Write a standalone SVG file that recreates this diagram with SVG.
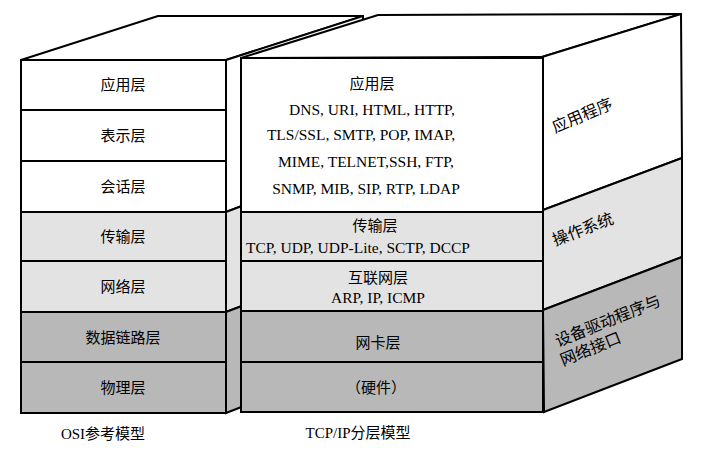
<svg xmlns="http://www.w3.org/2000/svg" width="721" height="463" viewBox="0 0 721 463">
<style>
.ln{stroke:#000;stroke-width:2;stroke-linejoin:miter}
.w{fill:#fff}
.l{fill:#e3e3e3}
.d{fill:#b8b8b8}
text{font-family:"Liberation Serif","Noto Sans CJK SC",serif;fill:#000}
.cn{font-size:15px;text-anchor:middle}
.en{font-size:15.5px;text-anchor:middle}
.side{font-size:16px;text-anchor:start}
</style>
<rect width="721" height="463" fill="#fff"/>
<g id="osi">
  <polygon class="w ln" points="21,60 158,16 363,16 226,60"/>
  <polygon class="w ln" points="226,60 363,16 363,160 226,212"/>
  <polygon class="l ln" points="226,212 363,160 363,260 226,312"/>
  <polygon class="d ln" points="226,312 363,260 363,360 226,413"/>
  <rect class="w ln" x="21" y="60" width="205" height="50"/>
  <rect class="w ln" x="21" y="110" width="205" height="51"/>
  <rect class="w ln" x="21" y="161" width="205" height="51"/>
  <rect class="l ln" x="21" y="212" width="205" height="49"/>
  <rect class="l ln" x="21" y="261" width="205" height="51"/>
  <rect class="d ln" x="21" y="312" width="205" height="50"/>
  <rect class="d ln" x="21" y="362" width="205" height="51"/>
  <text class="cn" x="123" y="90">应用层</text>
  <text class="cn" x="123" y="141">表示层</text>
  <text class="cn" x="123" y="192">会话层</text>
  <text class="cn" x="123" y="242">传输层</text>
  <text class="cn" x="123" y="292">网络层</text>
  <text class="cn" x="123" y="343">数据链路层</text>
  <text class="cn" x="123" y="393">物理层</text>
  <text class="cn" x="103" y="439">OSI参考模型</text>
</g>
<g id="tcpip">
  <polygon class="w ln" points="241,58 378,15 681,14 542,57"/>
  <polygon class="w ln" points="542,57 681,14 682,158 543,210"/>
  <polygon class="l ln" points="543,210 682,158 682,257 543,310"/>
  <polygon class="d ln" points="543,310 682,257 682,359 544,412"/>
  <rect class="w ln" x="241" y="58" width="302" height="154"/>
  <rect class="l ln" x="241" y="212" width="302" height="49"/>
  <rect class="l ln" x="241" y="261" width="302" height="50"/>
  <rect class="d ln" x="241" y="311" width="302" height="51"/>
  <rect class="d ln" x="241" y="362" width="302" height="50"/>
  <text class="cn" x="372" y="89">应用层</text>
  <text class="en" x="372" y="115">DNS, URI, HTML, HTTP,</text>
  <text class="en" x="361" y="140">TLS/SSL, SMTP, POP, IMAP,</text>
  <text class="en" x="366" y="167">MIME, TELNET,SSH, FTP,</text>
  <text class="en" x="366" y="194">SNMP, MIB, SIP, RTP, LDAP</text>
  <text class="cn" x="375" y="231">传输层</text>
  <text class="en" x="358" y="253">TCP, UDP, UDP-Lite, SCTP, DCCP</text>
  <text class="cn" x="378" y="283">互联网层</text>
  <text class="en" x="378" y="303">ARP, IP, ICMP</text>
  <text class="cn" x="378" y="348">网卡层</text>
  <text class="cn" x="376" y="393">（硬件）</text>
  <text class="cn" x="358" y="438">TCP/IP分层模型</text>
  <text class="side" transform="translate(555,133) rotate(-23)">应用程序</text>
  <text class="side" transform="translate(555,246) rotate(-21)">操作系统</text>
  <text class="side" transform="translate(558,347) rotate(-22)">设备驱动程序与</text>
  <text class="side" transform="translate(563,366) rotate(-22)">网络接口</text>
</g>
</svg>
